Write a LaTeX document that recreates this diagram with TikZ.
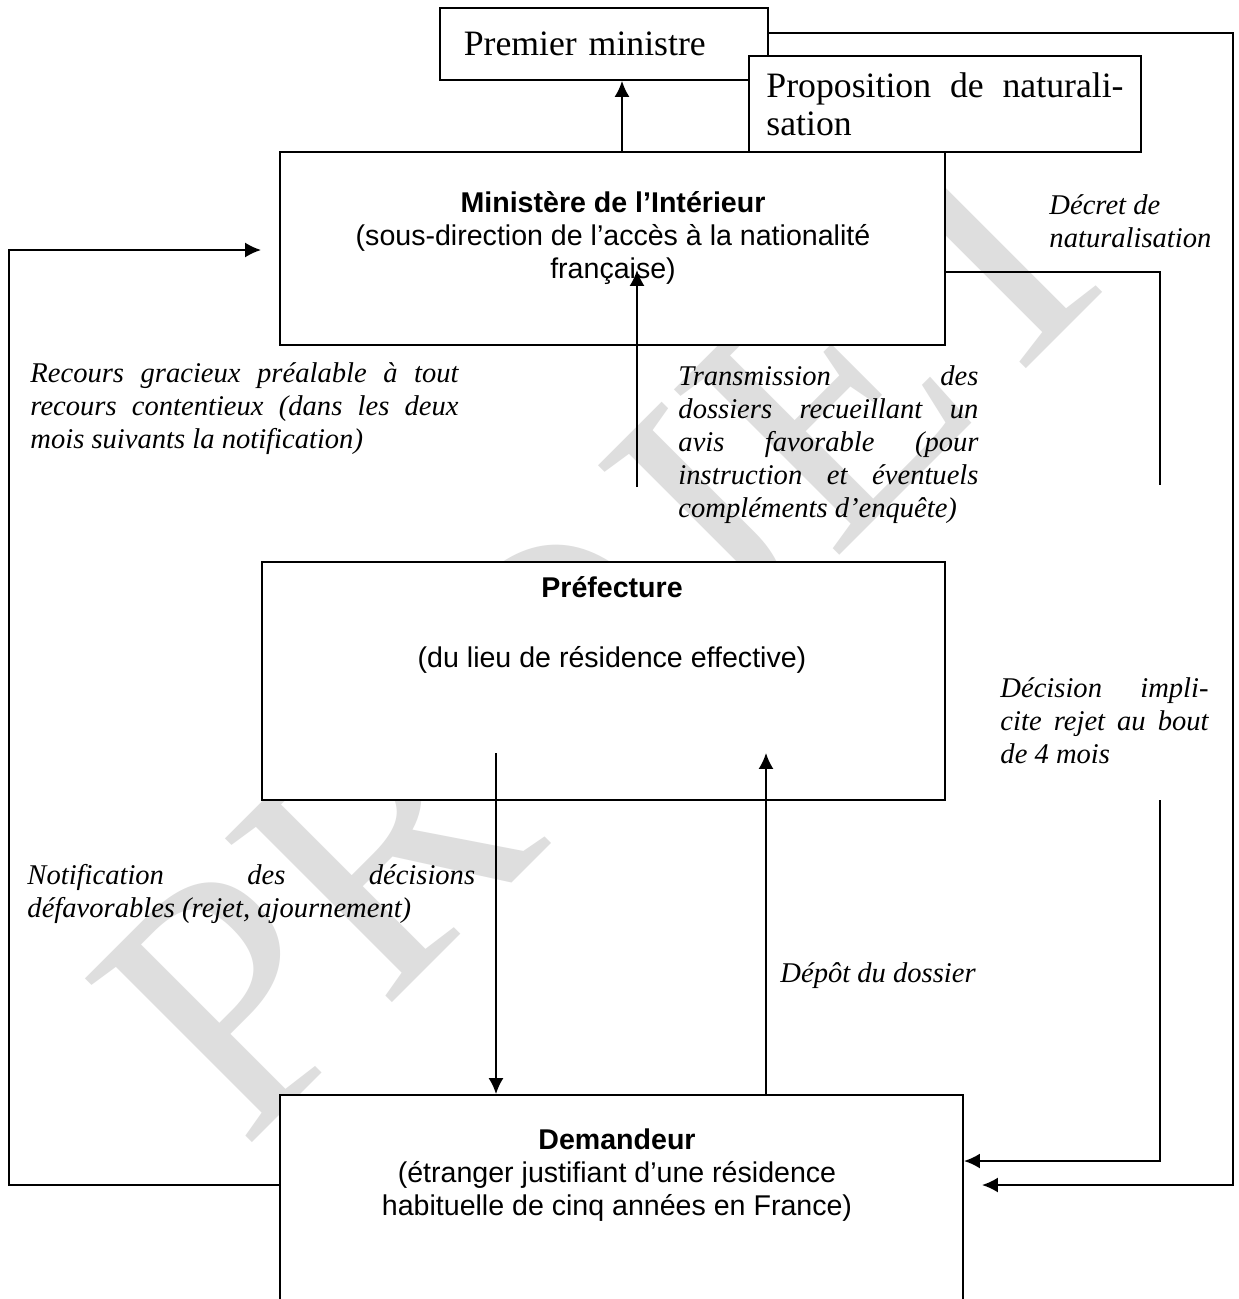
\documentclass[tikz,border=0pt]{standalone}
\usepackage{fontspec}
\setmainfont{Liberation Serif}
\setsansfont{Liberation Sans}
\usetikzlibrary{arrows.meta, positioning}
\tolerance=9999
\hbadness=10000

\begin{document}
\begin{tikzpicture}[x=0.42pt, y=-0.42pt,
  boite/.style={draw, line width=0.8pt, fill=white, inner sep=0pt},
  trait/.style={line width=0.8pt},
  fleche/.style={line width=0.8pt, -{Latex[length=6.7pt,width=6.3pt]}},
  titre/.style={font=\sffamily\fontsize{12}{13.9}\selectfont, align=center, inner sep=0pt},
  note/.style={font=\itshape\fontsize{12}{13.9}\selectfont, align=justify, inner sep=0pt, anchor=north west}]
\clip (0,0) rectangle (1238,1299);
\fill[white] (0,0) rectangle (1238,1299);
\node[rotate=45, text=black!13, font=\fontsize{150}{150}\selectfont] (filigrane) at (610,620) {PROJET};

\node[boite, minimum width=137.8pt, minimum height=30.2pt, text width=117.8pt, align=left, font=\fontsize{15}{15.5}\selectfont] (pm) at (604,44) {Premier ministre};
\node[boite, minimum width=164.6pt, minimum height=40.3pt, text width=150pt, align=justify, font=\fontsize{15}{16}\selectfont] (prop) at (945,104) {Proposition de naturali-\linebreak sation};

\node[boite, minimum width=279.3pt, minimum height=81.1pt] (min) at (612.5,248.5) {};
\node[titre] (mintxt) at (613,238) {\textbf{Ministère de l’Intérieur}\\(sous-direction de l’accès à la nationalité\\française)};

\node[boite, minimum width=286.9pt, minimum height=100pt] (pref) at (603.5,681) {};
\node[titre] (preftxt) at (612,625) {\textbf{Préfecture}\\[15.5pt](du lieu de résidence effective)};

\node[boite, minimum width=286.9pt, minimum height=102.9pt] (dem) at (621.5,1217.5) {};
\node[titre] (demtxt) at (617,1175) {\textbf{Demandeur}\\(étranger justifiant d’une résidence\\habituelle de cinq années en France)};

\node[note, text width=179.8pt] (recours) at (30,362) {Recours gracieux préalable à tout\linebreak recours contentieux (dans les deux\linebreak mois suivants la notification)};
\node[note, text width=126pt] (transm) at (678,365) {Transmission des\linebreak dossiers recueillant un\linebreak avis favorable (pour\linebreak instruction et éventuels\linebreak compléments d’enquête)};
\node[note, text width=188pt] (notif) at (27,864) {Notification des décisions\linebreak défavorables (rejet, ajournement)};
\node[note, align=left] (depot) at (780,962) {Dépôt du dossier};
\node[note, align=left] (decret) at (1049,194) {Décret de\\naturalisation};
\node[note, text width=87.4pt] (decis) at (1000,677) {Décision impli-\linebreak cite rejet au bout\linebreak de 4 mois};

\coordinate (h) at (622,0);
\draw[fleche] (min.north -| h) -- (pm.south -| h);

\coordinate (t1) at (637,487);
\coordinate (t2) at (637,270);
\draw[fleche] (t1) -- (t2);

\coordinate (r1) at (1160,272);
\coordinate (r2) at (1160,485);
\coordinate (r3) at (1160,800);
\coordinate (r4) at (1160,1161);
\draw[trait] (min.east |- r1) -- (r1) -- (r2);
\draw[fleche] (r3) -- (r4) -- (dem.east |- r4);

\coordinate (s1) at (1233,33);
\coordinate (s2) at (1233,1185);
\coordinate (s3) at (982,1185);
\draw[fleche] (pm.east |- s1) -- (s1) -- (s2) -- (s3);

\coordinate (g1) at (9,1185);
\coordinate (g2) at (9,250);
\coordinate (g3) at (261,250);
\draw[fleche] (dem.west |- g1) -- (g1) -- (g2) -- (g3);

\coordinate (b1) at (496,753);
\draw[fleche] (b1) -- (dem.north -| b1);
\coordinate (b2) at (766,753);
\draw[fleche] (dem.north -| b2) -- (b2);
\end{tikzpicture}
\end{document}
